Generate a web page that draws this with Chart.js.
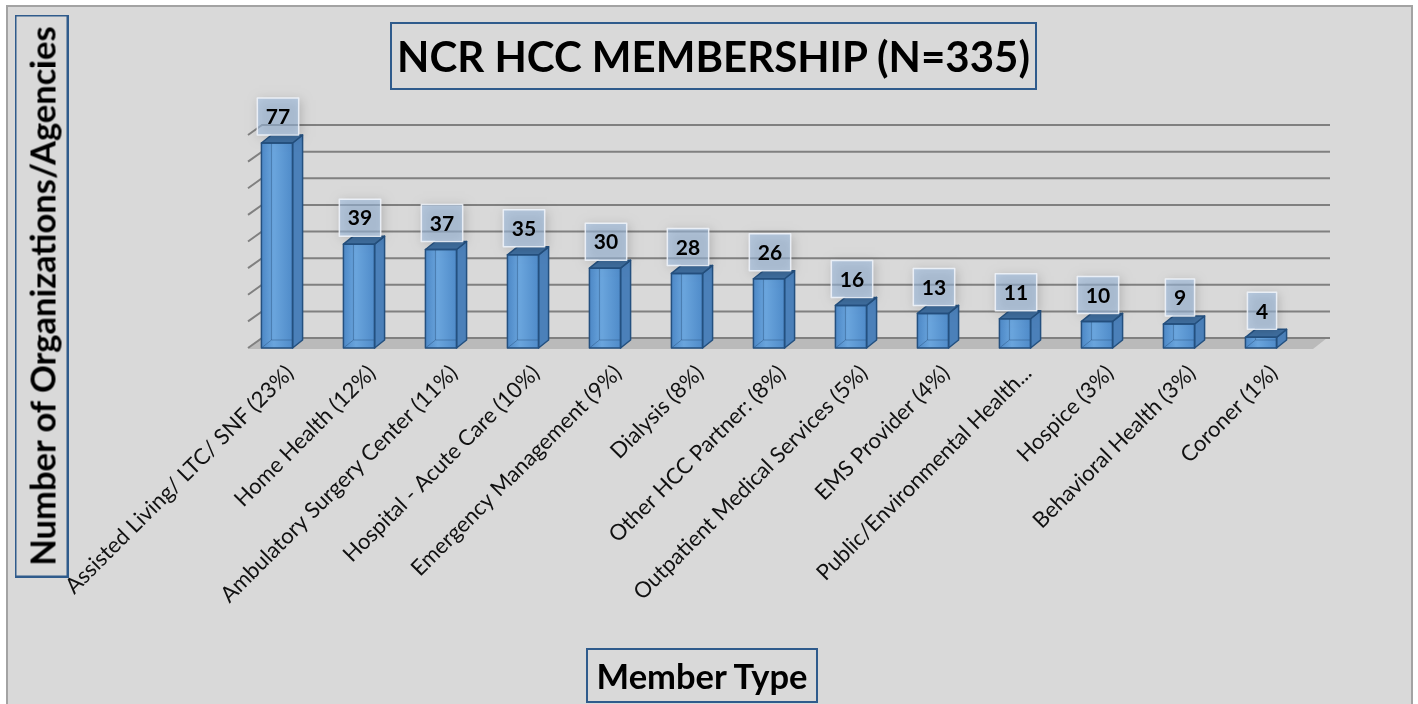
<!DOCTYPE html>
<html>
<head>
<meta charset="utf-8">
<script src="https://cdn.jsdelivr.net/npm/chart.js@4.4.1/dist/chart.umd.min.js"></script>
<style>
    body { margin: 0; background: #ffffff; font-family: Lato, sans-serif; }
    #frame {
        position: absolute; left: 6px; top: 5px; width: 1407px; height: 710px;
        background: #d9d9d9; border: 2px solid #a3a3a3; box-sizing: border-box;
    }
    #chart { position: absolute; left: 0; top: 0; }
    .box {
        position: absolute; border: 2px solid #2f5b8c; box-sizing: border-box;
        font-weight: bold; color: #000; display: flex; align-items: center; justify-content: center;
        white-space: nowrap;
    }
    #title { left: 390px; top: 22px; width: 647px; height: 68px; font-size: 42px; }
    #yTitle { left: -240px; top: 269px; width: 563px; height: 54px; font-size: 34.5px; transform: rotate(-90deg); }
    #xTitle { left: 586px; top: 648px; width: 232px; height: 55px; font-size: 34.5px; }
</style>
</head>
<body>
<div id="frame"></div>
<canvas id="chart" width="1418" height="704"></canvas>
<div class="box" id="title">NCR HCC MEMBERSHIP (N=335)</div>
<div class="box" id="yTitle">Number of Organizations/Agencies</div>
<div class="box" id="xTitle">Member Type</div>
<script>
const categories = [
    'Assisted Living/ LTC/ SNF (23%)',
    'Home Health (12%)',
    'Ambulatory Surgery Center (11%)',
    'Hospital - Acute Care (10%)',
    'Emergency Management (9%)',
    'Dialysis (8%)',
    'Other HCC Partner: (8%)',
    'Outpatient Medical Services (5%)',
    'EMS Provider (4%)',
    'Public/Environmental Health...',
    'Hospice (3%)',
    'Behavioral Health (3%)',
    'Coroner (1%)'
];
const memberCounts = [77, 39, 37, 35, 30, 28, 26, 16, 13, 11, 10, 9, 4];

// fake 3d offsets
const wallDepth = { dx: 14, dy: -10 };
const barDepth = { dx: 10, dy: -8 };

function poly(ctx, pts) {
    ctx.beginPath();
    ctx.moveTo(pts[0][0], pts[0][1]);
    pts.slice(1).forEach(p => ctx.lineTo(p[0], p[1]));
    ctx.closePath();
}

// floor + back wall gridlines
const backWall = {
    id: 'backWall',
    beforeDatasetsDraw(chart) {
        const { ctx, chartArea: a, scales: { y } } = chart;
        const x0 = a.left + 12, x1 = a.right + 11;
        const yb = y.getPixelForValue(0);
        ctx.save();
        ctx.fillStyle = '#bababa';
        poly(ctx, [[x0, yb + 1], [x1, yb + 1], [x1 + wallDepth.dx, yb + wallDepth.dy], [x0 + wallDepth.dx, yb + wallDepth.dy]]);
        ctx.fill();
        ctx.strokeStyle = '#808080';
        ctx.lineWidth = 2;
        for (let v = y.min; v <= y.max; v += 10) {
            const py = y.getPixelForValue(v);
            ctx.beginPath();
            ctx.moveTo(x0, py);
            ctx.lineTo(x0 + wallDepth.dx, py + wallDepth.dy);
            ctx.lineTo(x1 + wallDepth.dx + 3, py + wallDepth.dy);
            ctx.stroke();
        }
        ctx.restore();
    }
};

// side/top faces of the bars and the value boxes
const bars3d = {
    id: 'bars3d',
    afterDatasetsDraw(chart) {
        const { ctx } = chart;
        const meta = chart.getDatasetMeta(0);
        const { dx, dy } = barDepth;
        ctx.save();
        meta.data.forEach((bar, i) => {
            const { x, y, base, width } = bar.getProps(['x', 'y', 'base', 'width'], true);
            const l = x - width / 2, r = x + width / 2;

            const g = ctx.createLinearGradient(l, 0, r, 0);
            g.addColorStop(0, '#4d88c6');
            g.addColorStop(0.4, '#6aa5dd');
            g.addColorStop(1, '#4f8bc9');
            ctx.fillStyle = g;
            ctx.fillRect(l, y, width, base - y);

            // back edges seen through the bar
            ctx.strokeStyle = 'rgba(40,80,125,0.45)';
            ctx.lineWidth = 1;
            ctx.beginPath();
            ctx.moveTo(l + dx, y + dy);
            ctx.lineTo(l + dx, base + dy);
            ctx.lineTo(r + dx, base + dy);
            ctx.moveTo(l + dx, base + dy);
            ctx.lineTo(l, base);
            ctx.stroke();

            ctx.strokeStyle = '#24507f';
            ctx.lineWidth = 1.5;
            ctx.lineJoin = 'round';
            ctx.fillStyle = '#4b80b9';
            poly(ctx, [[r, y], [r + dx, y + dy], [r + dx, base + dy], [r, base]]);
            ctx.fill(); ctx.stroke();
            ctx.fillStyle = '#3f6e9f';
            poly(ctx, [[l, y], [l + dx, y + dy], [r + dx, y + dy], [r, y]]);
            ctx.fill(); ctx.stroke();
            ctx.strokeRect(l, y, width, base - y);

            // value box
            const text = String(memberCounts[i]);
            ctx.font = 'bold 21px Lato';
            const bw = ctx.measureText(text).width + 17, bh = 37;
            const bx = x + 1 - bw / 2, by = y - 8 - bh;
            ctx.shadowColor = 'rgba(0,0,0,0.3)';
            ctx.shadowBlur = 10;
            ctx.shadowOffsetX = 2;
            ctx.shadowOffsetY = 2;
            ctx.fillStyle = 'rgba(160,190,225,0.6)';
            ctx.fillRect(bx, by, bw, bh);
            ctx.shadowColor = 'transparent';
            ctx.strokeStyle = 'rgba(238,243,250,0.9)';
            ctx.lineWidth = 1.5;
            ctx.strokeRect(bx, by, bw, bh);
            ctx.fillStyle = '#000';
            ctx.textAlign = 'center';
            ctx.textBaseline = 'middle';
            ctx.fillText(text, x + 1, by + bh / 2 + 1);
        });
        ctx.restore();
    }
};

new Chart(document.getElementById('chart'), {
    type: 'bar',
    data: {
        labels: categories,
        datasets: [{
            data: memberCounts,
            backgroundColor: '#5b9bd5',
            borderColor: '#24507f',
            borderWidth: 0,
            barPercentage: 0.38,
            categoryPercentage: 1
        }]
    },
    options: {
        responsive: false,
        animation: false,
        devicePixelRatio: 1,
        layout: { padding: { left: 236, right: 116, top: 135, bottom: 0 } },
        plugins: { legend: { display: false }, tooltip: { enabled: false } },
        scales: {
            x: {
                grid: { display: false, drawTicks: false },
                border: { display: false },
                ticks: {
                    autoSkip: false,
                    minRotation: 45,
                    maxRotation: 45,
                    padding: 12,
                    labelOffset: 13,
                    color: '#111111',
                    font: { family: 'Lato', size: 22 }
                },
                afterFit: scale => { scale.height = 356; }
            },
            y: {
                min: 0,
                max: 80,
                ticks: { display: false, stepSize: 10 },
                grid: { display: false, drawTicks: false },
                border: { display: false }
            }
        }
    },
    plugins: [backWall, bars3d]
});
</script>
</body>
</html>
